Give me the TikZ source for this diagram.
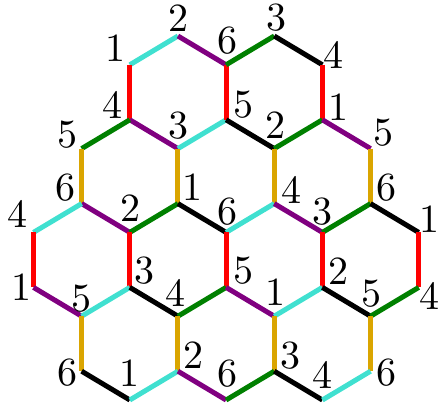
\documentclass[tikz,border=0pt]{standalone}
\usepackage{fontspec}
\newfontfamily\numfont{lmroman10-regular.otf}
\begin{document}
\begin{tikzpicture}[x=1pt,y=-1pt,
  edge/.style={line width=5pt},
  ecyan/.style={edge,draw=hcyan},
  epurple/.style={edge,draw=hpurple},
  egreen/.style={edge,draw=hgreen},
  eblack/.style={edge,draw=black},
  ered/.style={edge,draw=hred},
  egold/.style={edge,draw=hgold},
  num/.style={inner sep=0pt,font=\numfont\fontsize{40}{44}\selectfont}]
\definecolor{hcyan}{RGB}{64,224,208}
\definecolor{hpurple}{RGB}{128,0,128}
\definecolor{hgreen}{RGB}{0,128,0}
\definecolor{hred}{RGB}{255,0,0}
\definecolor{hgold}{RGB}{218,165,0}
\useasboundingbox (0,0) rectangle (440,408);
% vertices
\def\yL{{36,64.8,119.8,148.6,203.6,232.4,287.4,316.2,371.2,400}}
\foreach \i/\l in {3/0,5/0, 2/1,4/1,6/1, 2/2,4/2,6/2, 1/3,3/3,5/3,7/3, 1/4,3/4,5/4,7/4,
  0/5,2/5,4/5,6/5,8/5, 0/6,2/6,4/6,6/6,8/6, 1/7,3/7,5/7,7/7, 1/8,3/8,5/8,7/8, 2/9,4/9,6/9}{
  \pgfmathsetmacro{\yy}{\yL[\l]}
  \coordinate (v\i\l) at ({33.5+48.15*\i},\yy);
}
% edges
\foreach \a/\b/\c in {
  v21/v30/ecyan, v30/v41/epurple, v21/v22/ered, v22/v33/epurple, v33/v42/ecyan, v41/v42/ered,
  v41/v50/egreen, v50/v61/eblack, v61/v62/ered, v42/v53/eblack, v53/v62/egreen,
  v13/v22/egreen, v13/v14/egold, v33/v34/egold, v14/v25/epurple, v25/v34/egreen,
  v53/v54/egold, v34/v45/eblack, v45/v54/ecyan,
  v62/v73/epurple, v73/v74/egold, v54/v65/epurple, v65/v74/egreen,
  v05/v14/ecyan, v05/v06/ered, v25/v26/ered, v06/v17/epurple, v17/v26/ecyan,
  v45/v46/ered, v26/v37/eblack, v37/v46/egreen,
  v65/v66/ered, v46/v57/epurple, v57/v66/ecyan,
  v74/v85/eblack, v85/v86/ered, v66/v77/eblack, v77/v86/egreen,
  v17/v18/egold, v37/v38/egold, v18/v29/eblack, v29/v38/ecyan,
  v57/v58/egold, v38/v49/epurple, v49/v58/egreen,
  v77/v78/egold, v58/v69/eblack, v69/v78/ecyan}{
  \draw[\c] (\a) -- (\b);
}
% labels
\foreach \v/\dx/\dy/\t in {
  v30/1/-18/2, v21/-14/-17/1, v41/1/-24/6, v50/2/-18/3, v61/11/-10/4,
  v22/-17/-15/4, v42/17/-15/5, v62/16/-13/1,
  v33/1/-23/3, v13/-14/-14/5, v53/1/-23/2, v73/13/-16/5,
  v14/-16/-16/6, v34/15/-16/1, v54/17/-14/4, v74/16/-16/6,
  v05/-16/-18/4, v25/1/-24/2, v45/1/-21/6, v65/0/-21/3, v85/11/-13/1,
  v06/-12/0/1, v26/15/-17/3, v46/17/-17/5, v66/16/-16/2, v86/11/9/4,
  v17/0/-18/5, v37/-2/-23/4, v57/1/-24/1, v77/1/-23/5,
  v18/-14/1/6, v38/16/-16/2, v58/16/-16/3, v78/16/1/6,
  v29/0/-27/1, v49/1/-26/6, v69/0/-25/4}{
  \path (\v) ++(\dx,\dy) node[num] (l\v) {\t};
}
\end{tikzpicture}
\end{document}
